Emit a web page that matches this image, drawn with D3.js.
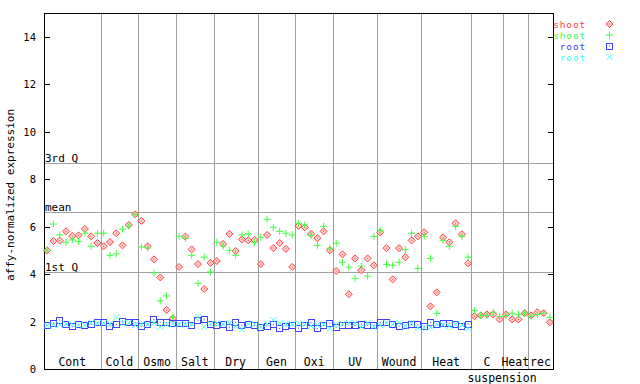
<!DOCTYPE html>
<html>
<head>
<meta charset="utf-8">
<script src="https://cdn.jsdelivr.net/npm/d3@7"></script>
<style>
  body { margin: 0; background: #fff; }
  text { font-family: "DejaVu Sans Mono", monospace; }
</style>
</head>
<body>
<div id="vis"></div>
<script>
// chart values
const groupNames = ["Cont", "Cold", "Osmo", "Salt", "Dry", "Gen", "Oxi", "UV", "Wound", "Heat", "C", "Heat", "rec"];
const groupSizes = [9, 6, 6, 6, 7, 6, 6, 7, 7, 8, 5, 4, 4];

const shootRed = [5.0, 5.39, 5.41, 5.80, 5.60, 5.63, 5.90, 5.59, 5.31, 5.17,
  5.35, 5.72, 5.21, 6.07, 6.52, 6.24, 5.17, 4.62, 3.86, 2.49,
  2.13, 4.30, 5.58, 5.04, 4.42, 3.37, 4.47, 4.55, 5.27, 5.69,
  4.97, 5.46, 5.42, 5.44, 4.42, 5.65, 5.10, 5.31, 5.06, 4.30,
  6.03, 5.97, 5.69, 5.51, 5.80, 5.00, 4.13, 4.83, 3.15, 4.66,
  4.16, 4.66, 4.37, 5.76, 5.09, 3.78, 5.09, 4.71, 5.42, 5.59,
  5.76, 2.64, 3.23, 5.55, 5.34, 6.14, 5.68, 4.45, 2.22, 2.26,
  2.30, 2.30, 2.09, 2.30, 2.09, 2.09, 2.35, 2.26, 2.39, 2.35, 1.97];

const shootGreen = [5.01, 6.11, 5.65, 5.34, 5.44, 5.38, 5.72, 5.17, 5.72, 5.72,
  4.79, 4.85, 5.89, 6.03, 6.50, 5.14, 5.10, 4.05, 2.87, 3.08,
  2.18, 5.59, 5.51, 4.79, 3.61, 4.71, 4.09, 5.34, 5.18, 5.00,
  4.79, 5.65, 5.69, 5.34, 5.55, 6.31, 5.97, 5.80, 5.72, 5.65,
  6.14, 6.07, 5.63, 5.21, 6.01, 5.09, 5.30, 4.50, 4.29, 3.82,
  4.33, 3.91, 5.59, 5.84, 4.41, 4.37, 4.50, 5.03, 5.72, 4.24,
  5.59, 4.66, 2.35, 5.42, 5.17, 6.01, 5.59, 4.71, 2.47, 2.26,
  2.26, 2.39, 2.22, 2.26, 2.35, 2.30, 2.35, 2.22, 2.30, 2.35, 2.18];

const rootBlue = [1.84, 1.93, 2.06, 1.89, 1.78, 1.87, 1.84, 1.89, 1.95, 1.95,
  1.81, 1.87, 2.02, 1.95, 1.95, 1.78, 1.89, 2.09, 1.97, 1.97,
  1.93, 1.93, 1.93, 1.85, 2.06, 2.09, 1.87, 1.84, 1.87, 1.76,
  1.97, 1.84, 1.88, 1.84, 1.76, 1.81, 1.87, 1.71, 1.81, 1.84,
  1.72, 1.84, 1.95, 1.71, 1.84, 1.93, 1.76, 1.84, 1.84, 1.84,
  1.89, 1.84, 1.84, 1.95, 1.97, 1.87, 1.81, 1.84, 1.87, 1.87,
  1.81, 1.97, 1.89, 1.93, 1.93, 1.87, 1.81, 1.89];

const rootCyan = [1.83, 1.85, 1.87, 1.89, 1.89, 1.85, 1.85, 1.95, 1.93, 1.93,
  1.90, 2.18, 1.93, 1.95, 1.85, 1.89, 1.88, 1.93, 1.78, 1.88,
  1.90, 1.88, 1.88, 1.88, 2.20, 1.78, 1.90, 1.93, 1.89, 1.93,
  1.81, 1.67, 1.88, 1.89, 1.78, 1.90, 2.06, 1.93, 1.90, 1.88,
  1.93, 1.88, 1.81, 1.85, 1.88, 1.71, 1.87, 1.90, 1.95, 1.93,
  1.78, 1.93, 1.78, 1.85, 1.93, 1.88, 1.95, 1.81, 1.93, 1.74,
  1.74, 1.76, 1.88, 1.85, 1.81, 1.88, 1.85, 1.71];

const refLines = [{label: "3rd Q", value: 8.68}, {label: "mean", value: 6.6}, {label: "1st Q", value: 4.07}];
const yTicks = [0, 2, 4, 6, 8, 10, 12, 14];

const width = 640, height = 384;
const mLeft = 44, mRight = 553, mTop = 13, mBottom = 369;
const nSamples = d3.sum(groupSizes);

const svg = d3.select("#vis").append("svg")
  .attr("width", width)
  .attr("height", height);

const x = d3.scaleLinear().domain([0, nSamples]).range([mLeft, mRight]);
const y = d3.scaleLinear().domain([0, 15]).range([mBottom, mTop]);
const py = v => Math.round(y(v)) + 0.5;

const grey = "#a0a0a0";

// group separators
let starts = [];
let acc = 0;
groupSizes.forEach(n => { starts.push(acc); acc += n; });

svg.append("g").selectAll("line")
  .data(starts.slice(1))
  .join("line")
  .attr("x1", d => Math.round(x(d)) + 0.5).attr("x2", d => Math.round(x(d)) + 0.5)
  .attr("y1", mTop).attr("y2", mBottom)
  .attr("stroke", grey).attr("shape-rendering", "crispEdges");

// quartile / mean lines
const ref = svg.append("g").selectAll("g").data(refLines).join("g");
ref.append("line")
  .attr("x1", mLeft).attr("x2", mRight)
  .attr("y1", d => py(d.value)).attr("y2", d => py(d.value))
  .attr("stroke", grey).attr("shape-rendering", "crispEdges");
ref.append("text")
  .attr("x", mLeft + 1).attr("y", d => py(d.value) - 2)
  .attr("font-size", "11px")
  .text(d => d.label);

// frame
svg.append("rect")
  .attr("x", mLeft + 0.5).attr("y", mTop + 0.5)
  .attr("width", mRight - mLeft).attr("height", mBottom - mTop)
  .attr("fill", "none").attr("stroke", "#000").attr("shape-rendering", "crispEdges");

// y ticks, both sides pointing in
const yt = svg.append("g").selectAll("g").data(yTicks).join("g");
yt.append("line")
  .attr("x1", mLeft).attr("x2", mLeft + 6)
  .attr("y1", d => py(d)).attr("y2", d => py(d))
  .attr("stroke", "#000").attr("shape-rendering", "crispEdges");
yt.append("line")
  .attr("x1", mRight - 5).attr("x2", mRight)
  .attr("y1", d => py(d)).attr("y2", d => py(d))
  .attr("stroke", "#000").attr("shape-rendering", "crispEdges");
yt.append("text")
  .attr("x", 36).attr("y", d => y(d) + 4)
  .attr("text-anchor", "end")
  .attr("font-size", "10.5px")
  .text(d => d);

svg.append("text")
  .attr("transform", `translate(14,${(mTop + mBottom) / 2 + 4}) rotate(-90)`)
  .attr("text-anchor", "middle")
  .attr("font-size", "11px")
  .text("affy-normalized expression");

// group labels
svg.append("g").selectAll("text")
  .data(groupNames)
  .join("text")
  .attr("x", (d, i) => x(starts[i] + groupSizes[i] / 2))
  .attr("y", mBottom - 3)
  .attr("text-anchor", "middle")
  .attr("font-size", "11.5px")
  .text(d => d);
svg.append("text")
  .attr("x", 502).attr("y", 382)
  .attr("text-anchor", "middle")
  .attr("font-size", "11.5px")
  .text("suspension");

// marker shapes
const red = "#ff4040", green = "#40ff40", blue = "#4040ff", cyan = "#40ffff";
function diamond(g, cx, cy, c) {
  g.append("path").attr("d", `M${cx},${cy - 3.5}L${cx + 3.5},${cy}L${cx},${cy + 3.5}L${cx - 3.5},${cy}Z`)
    .attr("fill", "#ffd0d0").attr("stroke", c);
  g.append("rect").attr("x", cx - 0.5).attr("y", cy - 0.5).attr("width", 1).attr("height", 1).attr("fill", c);
}
function plus(g, cx, cy, c) {
  g.append("path").attr("d", `M${cx - 3.5},${cy}H${cx + 3.5}M${cx},${cy - 3.5}V${cy + 3.5}`)
    .attr("stroke", c).attr("fill", "none");
}
function square(g, cx, cy, c) {
  g.append("rect").attr("x", cx - 3).attr("y", cy - 3).attr("width", 6).attr("height", 6)
    .attr("fill", "none").attr("stroke", c).attr("shape-rendering", "crispEdges");
  g.append("rect").attr("x", cx - 0.5).attr("y", cy - 0.5).attr("width", 1).attr("height", 1).attr("fill", c);
}
function cross(g, cx, cy, c) {
  g.append("path").attr("d", `M${cx - 3},${cy - 3}L${cx + 3},${cy + 3}M${cx - 3},${cy + 3}L${cx + 3},${cy - 3}`)
    .attr("stroke", c).attr("fill", "none");
}

const series = [
  {name: "shoot", values: shootRed, color: red, mark: diamond},
  {name: "shoot", values: shootGreen, color: green, mark: plus},
  {name: "root", values: rootBlue, color: blue, mark: square},
  {name: "root", values: rootCyan, color: cyan, mark: cross}
];

series.forEach(s => {
  const g = svg.append("g");
  s.values.forEach((v, i) => {
    if (v == null) return;
    s.mark(g, x(i + 0.5), y(v), s.color);
  });
});

// legend
const leg = svg.append("g");
series.forEach((s, i) => {
  const ly = 24 + i * 11;
  leg.append("text")
    .attr("x", 586).attr("y", ly + 3.5)
    .attr("text-anchor", "end")
    .attr("font-size", "9.4px")
    .attr("letter-spacing", "0.9px")
    .attr("fill", s.color)
    .text(s.name);
  s.mark(leg, 609.5, ly, s.color);
});
</script>
</body>
</html>
